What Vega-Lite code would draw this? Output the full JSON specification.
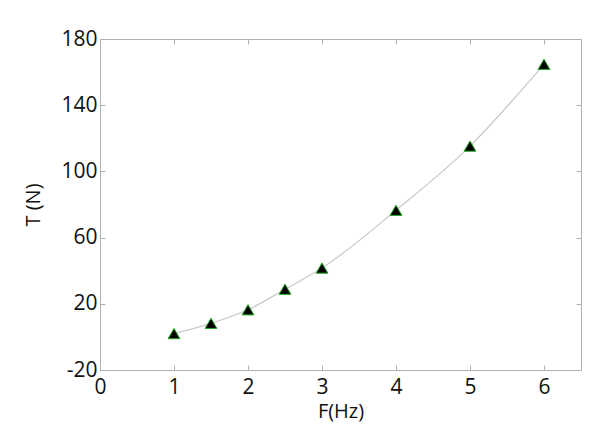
{
  "$schema": "https://vega.github.io/schema/vega-lite/v6.json",
  "width": 481,
  "height": 331,
  "autosize": "none",
  "padding": {"left": 100, "top": 39, "right": 19, "bottom": 70},
  "background": "white",
  "config": {
    "view": {"stroke": null},
    "axis": {
      "domainColor": "#b0b0b0",
      "tickColor": "#b0b0b0",
      "tickSize": -5,
      "grid": false,
      "labelFont": "Open Sans",
      "labelFontSize": 21,
      "labelColor": "#111111",
      "titleFont": "Open Sans",
      "titleFontSize": 20,
      "titleFontWeight": "normal",
      "titleColor": "#111111"
    }
  },
  "data": {
    "values": [
      {"F": 1, "T": 2},
      {"F": 1.5, "T": 8.2},
      {"F": 2, "T": 16.4},
      {"F": 2.5, "T": 28.8},
      {"F": 3, "T": 41.6},
      {"F": 4, "T": 76.5},
      {"F": 5, "T": 115.3},
      {"F": 6, "T": 164.7}
    ]
  },
  "layer": [
    {
      "mark": {"type": "line", "color": "#c8c8c8", "strokeWidth": 1.2, "interpolate": "monotone"},
      "encoding": {
        "x": {"field": "F", "type": "quantitative", "scale": {"domain": [0, 6.5], "nice": false, "zero": false},
              "axis": {"title": "F(Hz)", "values": [0, 1, 2, 3, 4, 5, 6], "labelPadding": 11, "titlePadding": 4, "labelFlush": false}},
        "y": {"field": "T", "type": "quantitative", "scale": {"domain": [-20, 180], "nice": false, "zero": false},
              "axis": {"title": "T (N)", "values": [-20, 20, 60, 100, 140, 180], "labelExpr": "'' + datum.value", "labelPadding": 8, "titlePadding": 17, "labelFlush": false}}
      }
    },
    {
      "mark": {"type": "point", "shape": "triangle-up", "filled": true, "fill": "black", "stroke": "#22aa22", "strokeWidth": 1, "size": 140, "opacity": 1},
      "encoding": {
        "x": {"field": "F", "type": "quantitative",
              "axis": {"orient": "top", "title": null, "labels": false, "values": [0, 1, 2, 3, 4, 5, 6]}},
        "y": {"field": "T", "type": "quantitative",
              "axis": {"orient": "right", "title": null, "labels": false, "values": [-20, 20, 60, 100, 140, 180]}}
      }
    }
  ],
  "resolve": {"axis": {"x": "independent", "y": "independent"}}
}
